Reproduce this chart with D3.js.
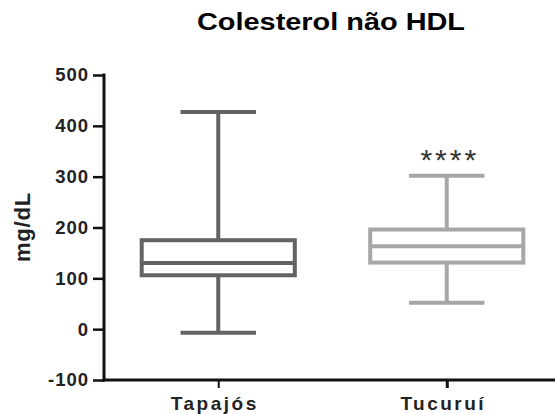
<!DOCTYPE html>
<html>
<head>
<meta charset="utf-8">
<script src="https://cdn.jsdelivr.net/npm/d3@7"></script>
<style>
  html, body { margin: 0; padding: 0; background: #fff; }
  svg { display: block; }
  text { font-family: "Liberation Sans", Arial, sans-serif; }
</style>
</head>
<body>
<script>
// Non-HDL cholesterol (mg/dL) by locality: five-number summaries per group
const categories = ["Tapajós", "Tucuruí"];
const minValues = [-7, 52];
const q1Values = [106, 131];
const medianValues = [130, 163];
const q3Values = [175, 196];
const maxValues = [427, 302];
const significance = ["", "****"];
const yTicks = [-100, 0, 100, 200, 300, 400, 500];
const colors = ["#636363", "#a6a6a9"];

const W = 555, H = 414;
const plotLeft = 104, plotBottom = 380, plotTop = 75;

const svg = d3.select("body").append("svg")
  .attr("width", W).attr("height", H);

const y = d3.scaleLinear().domain([-100, 500]).range([plotBottom, plotTop]);
const x = d3.scalePoint().domain(categories).range([plotLeft, 561]).padding(0.5);
const step = x.step();
const boxW = step * 0.67;
const capW = step * 0.33;

const groups = categories.map((c, i) => ({
  name: c, min: minValues[i], q1: q1Values[i], med: medianValues[i],
  q3: q3Values[i], max: maxValues[i], sig: significance[i], color: colors[i]
}));

// Title
svg.append("text")
  .attr("x", 331).attr("y", 30)
  .attr("text-anchor", "middle")
  .attr("font-size", 23).attr("font-weight", "bold")
  .attr("textLength", 268).attr("lengthAdjust", "spacingAndGlyphs")
  .text("Colesterol não HDL");

// Y axis (plain hyphen for negative numbers)
const yAxis = svg.append("g")
  .attr("transform", `translate(${plotLeft},0)`)
  .call(d3.axisLeft(y).tickValues(yTicks).tickFormat(d => String(d))
    .tickSize(11).tickPadding(4).tickSizeOuter(0));
yAxis.select(".domain").attr("stroke", "#111").attr("stroke-width", 3)
  .attr("d", `M0,${plotTop - 1.5}V${plotBottom + 1.5}`);
yAxis.selectAll(".tick line").attr("stroke", "#111").attr("stroke-width", 2.5);
yAxis.selectAll(".tick text")
  .attr("font-size", 18.5).attr("font-weight", "bold").attr("fill", "#222")
  .attr("font-family", "Liberation Sans, Arial, sans-serif")
  .attr("letter-spacing", 1);

// X axis
const xAxis = svg.append("g")
  .attr("transform", `translate(0,${plotBottom})`)
  .call(d3.axisBottom(x).tickSize(8).tickPadding(9).tickSizeOuter(0));
xAxis.select(".domain").attr("stroke", "#111").attr("stroke-width", 3)
  .attr("d", `M${plotLeft - 1.5},0H${W + 10}`);
xAxis.selectAll(".tick line").attr("stroke", "#111").attr("stroke-width", (d, i) => i === 0 ? 2 : 3);
xAxis.selectAll(".tick text")
  .attr("font-size", 19).attr("font-weight", "bold").attr("fill", "#222")
  .attr("font-family", "Liberation Sans, Arial, sans-serif")
  .attr("letter-spacing", 2.5)
  .attr("dx", -4)
  .attr("dy", "0.71em");

// Y axis label
svg.append("text")
  .attr("transform", "translate(30,227) rotate(-90)")
  .attr("text-anchor", "middle")
  .attr("font-size", 22).attr("font-weight", "bold").attr("fill", "#222")
  .attr("letter-spacing", 0.8)
  .text("mg/dL");

// Box plots
const g = svg.append("g").selectAll("g").data(groups).join("g")
  .attr("stroke", d => d.color).attr("fill", "none").attr("stroke-width", 4);

// whiskers
g.append("line")
  .attr("x1", d => x(d.name)).attr("x2", d => x(d.name))
  .attr("y1", d => y(d.max)).attr("y2", d => y(d.q3));
g.append("line")
  .attr("x1", d => x(d.name)).attr("x2", d => x(d.name))
  .attr("y1", d => y(d.q1)).attr("y2", d => y(d.min));
// caps
g.append("line")
  .attr("x1", d => x(d.name) - capW / 2).attr("x2", d => x(d.name) + capW / 2)
  .attr("y1", d => y(d.max)).attr("y2", d => y(d.max));
g.append("line")
  .attr("x1", d => x(d.name) - capW / 2).attr("x2", d => x(d.name) + capW / 2)
  .attr("y1", d => y(d.min)).attr("y2", d => y(d.min));
// box
g.append("rect")
  .attr("x", d => x(d.name) - boxW / 2).attr("width", boxW)
  .attr("y", d => y(d.q3)).attr("height", d => y(d.q1) - y(d.q3))
  .attr("fill", "#fff");
// median
g.append("line")
  .attr("x1", d => x(d.name) - boxW / 2).attr("x2", d => x(d.name) + boxW / 2)
  .attr("y1", d => y(d.med)).attr("y2", d => y(d.med));

// significance markers
svg.append("g").selectAll("text").data(groups.filter(d => d.sig)).join("text")
  .attr("x", d => x(d.name) + 3).attr("y", d => y(d.max) - 6)
  .attr("text-anchor", "middle")
  .attr("font-family", "Liberation Serif, Times New Roman, serif")
  .attr("font-size", 30).attr("fill", "#333")
  .attr("letter-spacing", 3)
  .text(d => d.sig);
</script>
</body>
</html>
